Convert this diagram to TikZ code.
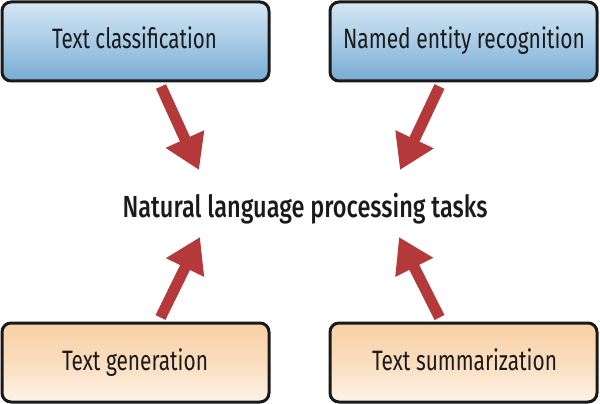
\documentclass[tikz,border=0pt]{standalone}
\usepackage{fontspec}
\setmainfont{Fira Sans}
\newfontfamily\medfont{Fira Sans Medium}
\usetikzlibrary{arrows.meta,backgrounds}
\newlength\fitlen
\newcommand\fitw[2]{\settowidth\fitlen{#2}\pgfmathsetmacro\fitsx{#1/\fitlen}\scalebox{\fitsx}[1]{#2}}
\definecolor{arrred}{HTML}{B5393B}
\definecolor{bluetop}{HTML}{D4E7F4}
\definecolor{bluemid}{HTML}{A8CBE6}
\definecolor{bluebot}{HTML}{78ABD2}
\definecolor{orgtop}{HTML}{F8D0A4}
\definecolor{orgmid}{HTML}{FADDBE}
\definecolor{orgbot}{HTML}{FEF3E8}
\definecolor{boxline}{HTML}{1A1A1A}
\begin{document}
\begin{tikzpicture}[x=1pt,y=-1pt,
  taskbox/.style={draw=boxline,line width=3pt,rounded corners=9pt,
    minimum width=267pt,minimum height=79pt,inner sep=0pt,
    font=\fontsize{28}{30}\selectfont,text=boxline},
  bluebox/.style={taskbox,top color=bluetop,bottom color=bluebot,middle color=bluemid},
  orangebox/.style={taskbox,top color=orgtop,bottom color=orgbot,middle color=orgmid},
  arr/.style={draw=arrred,line width=11pt,
    -{Triangle[length=34pt,width=40pt,fill=arrred]}}]
\useasboundingbox (0,0) rectangle (600,404);
\node[bluebox] (tc) at (135.5,41.5) {};
\node[bluebox] (ner) at (463.5,41.5) {};
\node[orangebox] (tg) at (135.5,362.5) {};
\node[orangebox] (ts) at (463.5,362.5) {};
\node[anchor=base,font=\fontsize{28}{30}\selectfont,text=boxline,inner sep=0pt] (tct) at (134.5,49) {\fitw{165pt}{Text classification}};
\node[anchor=base,font=\fontsize{28}{30}\selectfont,text=boxline,inner sep=0pt] (nert) at (464,49) {\fitw{242pt}{Named entity recognition}};
\node[anchor=base,font=\fontsize{28}{30}\selectfont,text=boxline,inner sep=0pt] (tgt) at (135,370) {\fitw{146pt}{Text generation}};
\node[anchor=base,font=\fontsize{28}{30}\selectfont,text=boxline,inner sep=0pt] (tst) at (464.5,370) {\fitw{185pt}{Text summarization}};
\node[anchor=base,font=\medfont\fontsize{30.5}{32}\selectfont,text=boxline,inner sep=0pt] (nlp) at (305,217) {\fitw{365pt}{Natural language processing tasks}};
\coordinate (tipTL) at (199,170);
\coordinate (tipTR) at (400,170);
\coordinate (tipBL) at (200,237);
\coordinate (tipBR) at (399,237);
\begin{scope}[on background layer]
\draw[arr] ([xshift=25.5pt,yshift=-4pt]tc.south) -- (tipTL);
\draw[arr] ([xshift=-24pt,yshift=-4pt]ner.south) -- (tipTR);
\draw[arr] ([xshift=25pt,yshift=4pt]tg.north) -- (tipBL);
\draw[arr] ([xshift=-24pt,yshift=4pt]ts.north) -- (tipBR);
\end{scope}
\end{tikzpicture}
\end{document}
